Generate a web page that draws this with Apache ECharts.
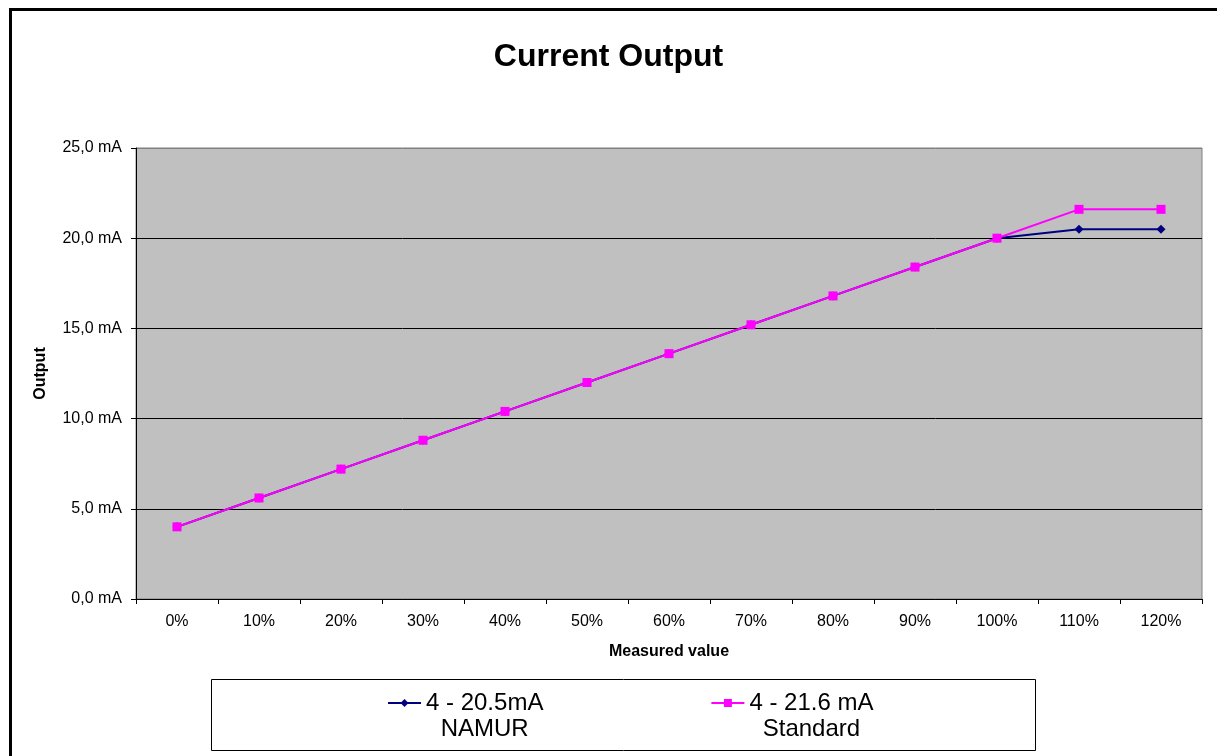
<!DOCTYPE html>
<html>
<head>
<meta charset="utf-8">
<script src="https://cdn.jsdelivr.net/npm/echarts@6/dist/echarts.min.js"></script>
<style>
  html, body { margin: 0; padding: 0; background: #fff; }
  #chart { width: 1217px; height: 756px; }
</style>
</head>
<body>
<div id="chart"></div>
<script>
const categories = ['0%', '10%', '20%', '30%', '40%', '50%', '60%', '70%', '80%', '90%', '100%', '110%', '120%'];
const namurValues = [4, 5.6, 7.2, 8.8, 10.4, 12, 13.6, 15.2, 16.8, 18.4, 20, 20.5, 20.5];
const standardValues = [4, 5.6, 7.2, 8.8, 10.4, 12, 13.6, 15.2, 16.8, 18.4, 20, 21.6, 21.6];
const seriesNames = ['4 - 20.5mA', '4 - 21.6 mA'];
const seriesSubNames = ['NAMUR', 'Standard'];

const font = 'Arial, "Liberation Sans", sans-serif';
const legendFontSize = 24;
const iconWidth = 33;

// measure legend text so the second line sits centred under icon + text, like Excel
const ctx = document.createElement('canvas').getContext('2d');
ctx.font = legendFontSize + 'px ' + font;
const nameWidths = seriesNames.map((n) => Math.ceil(ctx.measureText(n).width));

const chart = echarts.init(document.getElementById('chart'));

const option = {
  backgroundColor: '#ffffff',
  animation: false,
  title: {
    text: 'Current Output',
    left: 'center',
    top: 41,
    padding: 0,
    textStyle: { fontFamily: font, fontSize: 32, fontWeight: 'bold', color: '#000' }
  },
  legend: {
    left: 387,
    top: 664,
    padding: 0,
    itemGap: 710 - 387 - (iconWidth + 5 + nameWidths[0]),
    itemWidth: iconWidth,
    itemHeight: 10,
    data: seriesNames,
    formatter: (name) => {
      const i = seriesNames.indexOf(name);
      return ' \n{a|' + name + '}\n{b' + i + '|' + seriesSubNames[i] + '}';
    },
    textStyle: {
      fontFamily: font,
      fontSize: legendFontSize,
      lineHeight: 26,
      color: '#000',
      rich: {
        a: { fontFamily: font, fontSize: legendFontSize, lineHeight: 26, color: '#000' },
        b0: { fontFamily: font, fontSize: legendFontSize, lineHeight: 26, color: '#000',
              width: nameWidths[0] - iconWidth - 5, align: 'center' },
        b1: { fontFamily: font, fontSize: legendFontSize, lineHeight: 26, color: '#000',
              width: nameWidths[1] - iconWidth - 5, align: 'center' }
      }
    }
  },
  grid: {
    left: 136,
    top: 148,
    width: 1066,
    height: 451,
    show: true,
    backgroundColor: '#c0c0c0',
    borderColor: '#808080',
    borderWidth: 1
  },
  xAxis: {
    type: 'category',
    data: categories,
    boundaryGap: true,
    name: 'Measured value',
    nameLocation: 'middle',
    nameGap: 45,
    nameTextStyle: { fontFamily: font, fontSize: 16, fontWeight: 'bold', color: '#000' },
    axisLine: { lineStyle: { color: '#000', width: 1 } },
    axisTick: { show: true, length: 5, lineStyle: { color: '#000' } },
    axisLabel: { fontFamily: font, fontSize: 16, color: '#000', margin: 15 },
    splitLine: { show: false }
  },
  yAxis: {
    type: 'value',
    min: 0,
    max: 25,
    interval: 5,
    name: 'Output',
    nameLocation: 'middle',
    nameGap: 87,
    nameTextStyle: { fontFamily: font, fontSize: 16, fontWeight: 'bold', color: '#000' },
    axisLine: { show: true, lineStyle: { color: '#000', width: 1 } },
    axisTick: { show: true, length: 5, lineStyle: { color: '#000' } },
    axisLabel: {
      fontFamily: font,
      fontSize: 16,
      color: '#000',
      margin: 14,
      formatter: (v) => v.toFixed(1).replace('.', ',') + ' mA'
    },
    splitLine: {
      show: true,
      lineStyle: { color: ['#000', '#000', '#000', '#000', '#000', '#808080'], width: 1 }
    }
  },
  series: [
    {
      name: seriesNames[0],
      type: 'line',
      data: namurValues,
      symbol: 'diamond',
      symbolSize: 9,
      lineStyle: { color: '#000080', width: 2 },
      itemStyle: { color: '#000080' },
      z: 2
    },
    {
      name: seriesNames[1],
      type: 'line',
      data: standardValues,
      symbol: 'rect',
      symbolSize: 9,
      lineStyle: { color: '#ff00ff', width: 2 },
      itemStyle: { color: '#ff00ff' },
      z: 3
    }
  ],
  graphic: [
    {
      type: 'rect',
      shape: { x: 10.5, y: 9.5, width: 1300, height: 900 },
      style: { fill: 'none', stroke: '#000', lineWidth: 3 },
      silent: true,
      z: 10
    },
    {
      type: 'rect',
      shape: { x: 211.5, y: 679.5, width: 824, height: 71 },
      style: { fill: 'none', stroke: '#000', lineWidth: 1 },
      silent: true,
      z: 10
    }
  ]
};

chart.setOption(option);
</script>
</body>
</html>
